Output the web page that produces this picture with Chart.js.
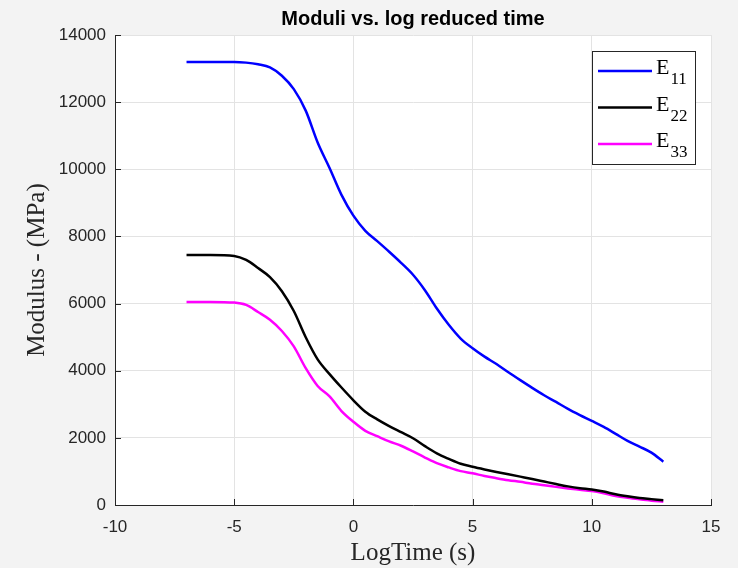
<!DOCTYPE html>
<html>
<head>
<meta charset="utf-8">
<title>Moduli vs. log reduced time</title>
<script src="https://cdn.jsdelivr.net/npm/chart.js@4.4.1/dist/chart.umd.min.js"></script>
<style>
  html, body { margin: 0; padding: 0; background: #f3f3f3; }
  canvas { display: block; }
</style>
</head>
<body>
<canvas id="moduliChart" width="738" height="568"></canvas>
<script>
// log reduced time (s) sample points shared by all three moduli
const logTime = [-7, -6, -5, -4.5, -4, -3.5, -3, -2.5, -2, -1.5, -1, -0.5, 0, 0.5, 1, 1.5, 2, 2.5, 3,
                 3.5, 4, 4.5, 5, 5.5, 6, 6.5, 7, 7.5, 8, 8.5, 9, 9.5, 10, 10.5, 11, 11.5, 12, 12.5, 13];

// moduli in MPa
const e11 = [13200, 13200, 13200, 13180, 13130, 13040, 12790, 12390, 11750, 10800, 10040, 9240, 8620,
             8170, 7860, 7545, 7215, 6860, 6400, 5855, 5370, 4960, 4670, 4420, 4200, 3955, 3720, 3490,
             3270, 3070, 2865, 2680, 2505, 2325, 2120, 1910, 1740, 1560, 1290];
const e22 = [7450, 7450, 7420, 7300, 7060, 6790, 6370, 5780, 5000, 4340, 3900, 3500, 3120,
             2780, 2550, 2350, 2170, 1990, 1755, 1540, 1375, 1230, 1140, 1060, 985, 915, 845, 775,
             700, 625, 555, 500, 460, 400, 320, 260, 210, 175, 140];
const e33 = [6050, 6050, 6030, 5960, 5750, 5520, 5185, 4725, 4075, 3545, 3235, 2800, 2480,
             2210, 2050, 1895, 1765, 1595, 1415, 1245, 1120, 1010, 945, 865, 800, 740, 690, 635,
             590, 540, 495, 455, 415, 350, 270, 215, 170, 130, 100];

const seriesLabels = ['E11', 'E22', 'E33'];
const seriesColors = ['#0000ff', '#000000', '#ff00ff'];

const xTicks = [-10, -5, 0, 5, 10, 15];
const yTicks = [0, 2000, 4000, 6000, 8000, 10000, 12000, 14000];

const axisColor = '#262626';
const gridColor = '#e3e3e3';

function toPoints(values) {
    return logTime.map((t, i) => ({ x: t, y: values[i] }));
}

// white plot area over the grey figure background
const plotBackground = {
    id: 'plotBackground',
    beforeDraw(chart) {
        const { ctx, chartArea: a } = chart;
        ctx.save();
        ctx.fillStyle = '#ffffff';
        ctx.fillRect(a.left, a.top, a.right - a.left, a.bottom - a.top);
        ctx.restore();
    }
};

// tick marks pointing into the plot, like MATLAB axes
const innerTicks = {
    id: 'innerTicks',
    afterDatasetsDraw(chart) {
        const { ctx, chartArea: a, scales } = chart;
        ctx.save();
        ctx.strokeStyle = axisColor;
        ctx.lineWidth = 1;
        ctx.beginPath();
        xTicks.forEach(v => {
            const px = Math.round(scales.x.getPixelForValue(v)) + 0.5;
            ctx.moveTo(px, a.bottom);
            ctx.lineTo(px, a.bottom - 6);
        });
        yTicks.forEach(v => {
            const py = Math.round(scales.y.getPixelForValue(v)) + 0.5;
            ctx.moveTo(a.left, py);
            ctx.lineTo(a.left + 6, py);
        });
        ctx.stroke();
        ctx.restore();
    }
};

// boxed legend with subscripted labels (E11 -> E with 11 below)
const subLegend = {
    id: 'subLegend',
    afterDraw(chart) {
        const { ctx, chartArea: a } = chart;
        const w = 103, h = 113;
        const left = a.right - 16 - w;
        const top = a.top + 16;
        ctx.save();
        ctx.fillStyle = '#ffffff';
        ctx.fillRect(left, top, w, h);
        ctx.strokeStyle = axisColor;
        ctx.lineWidth = 1;
        ctx.strokeRect(Math.round(left) + 0.5, Math.round(top) + 0.5, w, h);

        chart.data.datasets.forEach((ds, i) => {
            const y = top + 20 + i * 36.5;
            ctx.strokeStyle = ds.borderColor;
            ctx.lineWidth = 2.5;
            ctx.beginPath();
            ctx.moveTo(left + 6, y);
            ctx.lineTo(left + 60, y);
            ctx.stroke();

            ctx.fillStyle = '#000000';
            ctx.textBaseline = 'alphabetic';
            ctx.textAlign = 'left';
            ctx.font = '22px "Liberation Serif", "Times New Roman", serif';
            const main = ds.label.charAt(0);
            ctx.fillText(main, left + 64, y + 3);
            const mw = ctx.measureText(main).width;
            ctx.font = '17px "Liberation Serif", "Times New Roman", serif';
            ctx.fillText(ds.label.slice(1), left + 64 + mw + 1, y + 13);
        });
        ctx.restore();
    }
};

const ctx = document.getElementById('moduliChart').getContext('2d');
new Chart(ctx, {
    type: 'line',
    data: {
        datasets: [e11, e22, e33].map((vals, i) => ({
            label: seriesLabels[i],
            data: toPoints(vals),
            borderColor: seriesColors[i],
            backgroundColor: seriesColors[i],
            borderWidth: 2.5,
            pointRadius: 0,
            fill: false,
            cubicInterpolationMode: 'monotone'
        }))
    },
    options: {
        responsive: false,
        animation: false,
        layout: { padding: { left: 0, right: 27, top: 0, bottom: 0 } },
        plugins: {
            legend: { display: false },
            tooltip: { enabled: false },
            title: {
                display: true,
                fullSize: false,
                text: 'Moduli vs. log reduced time',
                color: '#000000',
                font: { family: '"Liberation Sans", Arial, sans-serif', size: 20, weight: 'bold' },
                padding: { top: 7.5, bottom: 3.6 }
            }
        },
        scales: {
            x: {
                type: 'linear',
                min: -10,
                max: 15,
                afterBuildTicks: scale => { scale.ticks = xTicks.map(v => ({ value: v })); },
                afterFit: scale => { scale.height = 63; },
                ticks: {
                    color: axisColor,
                    padding: 12,
                    callback: v => String(v),
                    font: { family: '"Liberation Sans", Arial, sans-serif', size: 17 }
                },
                grid: { color: gridColor, drawTicks: false, tickLength: 0 },
                border: { color: axisColor, width: 1 },
                title: {
                    display: true,
                    text: 'LogTime (s)',
                    color: axisColor,
                    font: { family: '"Liberation Serif", "Times New Roman", serif', size: 25 },
                    padding: { top: 0, bottom: 0 }
                }
            },
            y: {
                type: 'linear',
                min: 0,
                max: 14000,
                afterBuildTicks: scale => { scale.ticks = yTicks.map(v => ({ value: v })); },
                afterFit: scale => { scale.width = 115; },
                ticks: {
                    color: axisColor,
                    padding: 9,
                    callback: v => String(v),
                    font: { family: '"Liberation Sans", Arial, sans-serif', size: 17 }
                },
                grid: { color: gridColor, drawTicks: false, tickLength: 0 },
                border: { color: axisColor, width: 1 },
                title: {
                    display: true,
                    text: 'Modulus - (MPa)',
                    color: axisColor,
                    font: { family: '"Liberation Serif", "Times New Roman", serif', size: 25 },
                    padding: { top: 22, bottom: 0 }
                }
            }
        }
    },
    plugins: [plotBackground, innerTicks, subLegend]
});
</script>
</body>
</html>
